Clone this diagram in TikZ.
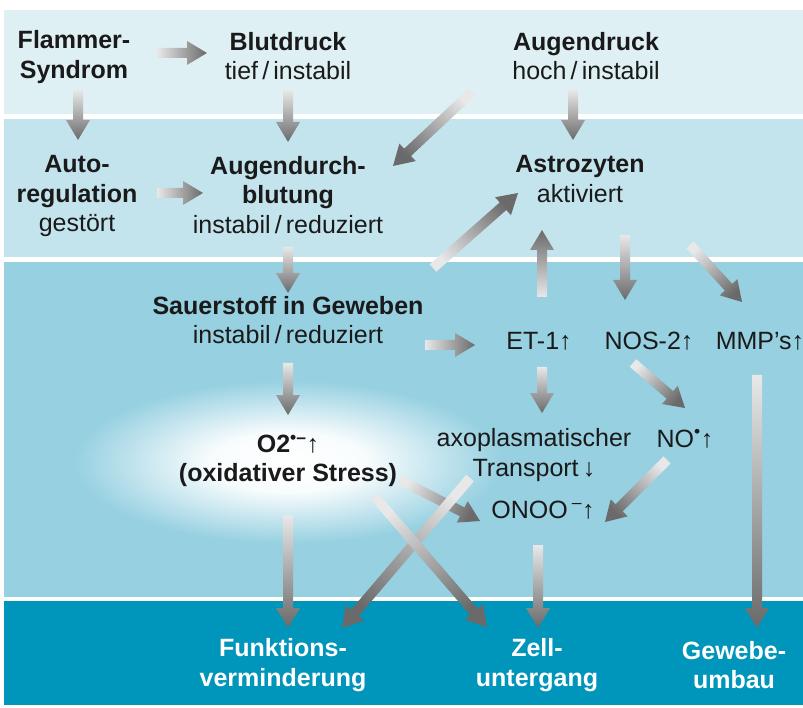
\documentclass[tikz,border=0pt]{standalone}
\usepackage{fontspec}
\setmainfont{Liberation Sans}
\usepackage{xcolor}
\usepackage{tikz}
\usetikzlibrary{calc}
\definecolor{bandA}{HTML}{DFF0F5}
\definecolor{bandB}{HTML}{C3E4ED}
\definecolor{bandC}{HTML}{96D0E1}
\definecolor{bandD}{HTML}{0096BB}
\definecolor{ink}{HTML}{1A1A1A}
\definecolor{headgray}{HTML}{6A6A6A}
\definecolor{tailgray}{HTML}{E8E8E8}
\pgfdeclareradialshading{glow}{\pgfpointorigin}{color(0bp)=(white); color(9bp)=(white!94!bandC);
  color(25bp)=(bandC); color(50bp)=(bandC)}
% broad grey arrow, light at the tail, dark at the head
\newcommand{\flow}[2]{%
  \coordinate (ft) at (#1);
  \coordinate (fh) at (#2);
  \coordinate (fn) at ($(fh)!20pt!(ft)$);
  \pgfmathanglebetweenpoints{\pgfpointanchor{ft}{center}}{\pgfpointanchor{fh}{center}}%
  \let\flowang\pgfmathresult
  \pgfmathsetmacro{\flowrot}{\flowang-90}%
  \shade[top color=headgray, bottom color=tailgray, shading angle=\flowrot]
    ($(ft)!5pt!90:(fh)$) -- ($(fn)!5pt!-90:(ft)$) -- ($(fn)!12pt!-90:(ft)$) -- (fh)
    -- ($(fn)!12pt!90:(ft)$) -- ($(fn)!5pt!90:(ft)$) -- ($(ft)!5pt!-90:(fh)$) -- cycle;}

\begin{document}
\begin{tikzpicture}[x=1pt, y=-1pt, every node/.style={align=center, inner sep=0pt, text=ink,
 font=\fontsize{25}{29.5}\selectfont}, strong/.style={font=\fontsize{25}{29.5}\selectfont\bfseries},
 result/.style={strong, text=white}]
\useasboundingbox[fill=white] (0,0) rectangle (803,708);
\fill[bandA] (4,10) rectangle (803,114);
\fill[bandB] (4,119) rectangle (803,257);
\fill[bandC] (4,262) rectangle (803,597);
\fill[bandD] (4,601) rectangle (803,705);
\begin{scope}
\clip (4,262) rectangle (803,597);
\shade[shading=glow] (288,462) ellipse [x radius=215pt, y radius=82pt];
\end{scope}

\node[strong] (flam) at (74,57) {Flammer-\\Syndrom};
\node (blut) at (288,56) {\textbf{Blutdruck}\\tief\,/\,instabil};
\node (augdr) at (586,56) {\textbf{Augendruck}\\hoch\,/\,instabil};
\node (auto) at (77,196) {\textbf{Auto-}\\\textbf{regulation}\\gestört};
\node (durch) at (288,195) {\textbf{Augendurch-}\\\textbf{blutung}\\instabil\,/\,reduziert};
\node (astro) at (580,179) {\textbf{Astrozyten}\\aktiviert};
\node (sauer) at (288,320) {\textbf{Sauerstoff in Geweben}\\instabil\,/\,reduziert};
\node[anchor=base] (et1) at (539,350) {ET-1↑};
\node[anchor=base] (nos) at (649,350) {NOS-2↑};
\node[anchor=base] (mmp) at (760,350) {MMP’s↑};
\node (axo) at (534,455) {axoplasmatischer\\Transport\,↓};
\node[anchor=base] (no) at (685,447) {NO\textsuperscript{•}↑};
\node[anchor=base] (onoo) at (543,518) {ONOO\,\textsuperscript{–}↑};
\node[strong] (o2) at (288,461) {O2\textsuperscript{•–}↑\\(oxidativer Stress)};
\node[result] (funk) at (283,665) {Funktions-\\verminderung};
\node[result] (zell) at (537,665) {Zell-\\untergang};
\node[result] (gew) at (734,665) {Gewebe-\\umbau};

\flow{$(flam)+(83,-4)$}{$(blut)+(-81,-3)$}
\flow{$(flam)+(4,33)$}{$(auto)+(1,-56)$}
\flow{$(blut)+(0,34)$}{$(durch)+(0,-53)$}
\flow{$(auto)+(80,-3)$}{$(durch)+(-85,-2)$}
\flow{$(augdr)+(-114,36)$}{$(durch)+(105,-29)$}
\flow{$(augdr)+(-13,34)$}{$(astro)+(-7,-39)$}
\flow{$(durch)+(0,52)$}{$(sauer)+(0,-27)$}
\flow{$(sauer)+(137,25)$}{$(et1.base)+(-64,-5)$}
\flow{$(et1.base)+(3,-53)$}{$(astro)+(-38,51)$}
\flow{$(sauer)+(145,-52)$}{$(astro)+(-62,14)$}
\flow{$(astro)+(45,56)$}{$(nos.base)+(-24,-50)$}
\flow{$(astro)+(110,66)$}{$(mmp.base)+(-18,-48)$}
\flow{$(et1.base)+(3,17)$}{$(axo)+(8,-42)$}
\flow{$(nos.base)+(-16,13)$}{$(no.base)+(0,-39)$}
\flow{$(no.base)+(-18,13)$}{$(onoo.base)+(62,4)$}
\flow{$(o2)+(112,19)$}{$(onoo.base)+(-63,3)$}
\flow{$(sauer)+(0,43)$}{$(o2)+(0,-46)$}
\flow{$(o2)+(0,54)$}{$(funk)+(5,-37)$}
\flow{$(axo)+(-64,23)$}{$(funk)+(59,-37)$}
\flow{$(o2)+(87,36)$}{$(zell)+(-50,-38)$}
\flow{$(onoo.base)+(-5,27)$}{$(zell)+(1,-37)$}
\flow{$(mmp.base)+(-3,25)$}{$(gew)+(23,-37)$}
\end{tikzpicture}
\end{document}
